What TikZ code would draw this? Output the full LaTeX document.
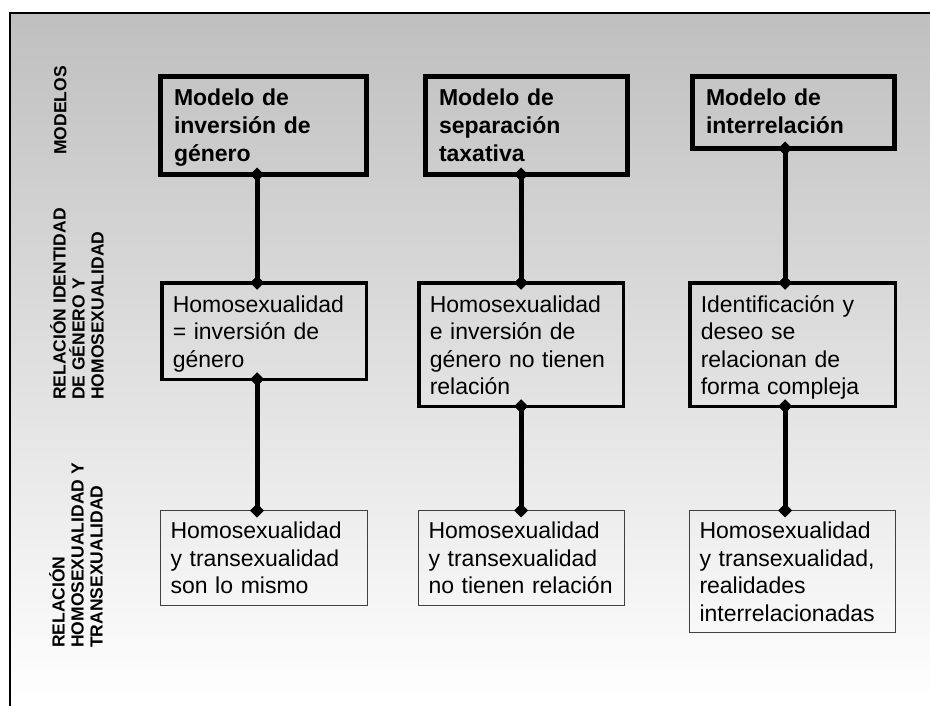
\documentclass[tikz,border=0pt]{standalone}
\usepackage{fontspec}
\setmainfont{Liberation Sans}
\usetikzlibrary{arrows.meta}
\tikzset{
  boxbase/.style={anchor=north west, outer sep=0pt, inner ysep=0pt, align=left},
  topbox/.style={boxbase, inner xsep=13.5pt, draw=black, line width=5pt, font=\bfseries\fontsize{23}{27.6}\selectfont, text height=29.5pt},
  midbox/.style={boxbase, inner xsep=11pt, draw=black, line width=3.5pt, font=\fontsize{23}{27.6}\selectfont, text height=29.3pt},
  botbox/.style={boxbase, inner xsep=10pt, draw=black!75, line width=1.2pt, font=\fontsize{23}{27.6}\selectfont, text height=28pt},
  conn/.style={line width=5pt, {Diamond[length=14pt,width=14pt]}-{Diamond[length=14pt,width=14pt]}, shorten <=-7pt, shorten >=-7pt},
  sidelbl/.style={rotate=90, anchor=north west, align=left, inner sep=0pt, font=\bfseries\fontsize{17.5}{19}\selectfont}
}
\begin{document}
\begin{tikzpicture}[x=1pt,y=-1pt]
\useasboundingbox (0,0) rectangle (930,706);
\shade[top color=black!25, bottom color=white] (10,13) rectangle (930,706);
\draw[line width=2pt] (10,706) -- (10,13) -- (930,13);

% side labels
\node[sidelbl] (l1) at (54,155) {MODELOS};
\node[sidelbl] (l2) at (50,400) {RELACIÓN IDENTIDAD\\DE GÉNERO Y\\HOMOSEXUALIDAD};
\node[sidelbl] (l3) at (49,648) {RELACIÓN\\HOMOSEXUALIDAD Y\\TRANSEXUALIDAD};

% top row
\node[topbox, text width=179pt, text depth=68.5pt] (t1) at (160.5,76.5) {Modelo de\\inversión de\\género};
\node[topbox, text width=175pt, text depth=68.5pt] (t2) at (425.5,76.5) {Modelo de\\separación\\taxativa};
\node[topbox, text width=175pt, text depth=42.5pt] (t3) at (692.5,76.5) {Modelo de\\interrelación};

% middle row
\node[midbox, text width=182.5pt, text depth=67.2pt] (m1) at (161.75,282.75) {Homosexualidad\\= inversión de\\género};
\node[midbox, text width=182.5pt, text depth=94.2pt] (m2) at (418.75,282.75) {Homosexualidad\\e inversión de\\género no tienen\\relación};
\node[midbox, text width=183.5pt, text depth=94.2pt] (m3) at (689.75,282.75) {Identificación y\\deseo se\\relacionan de\\forma compleja};

% bottom row
\node[botbox, text width=187pt, text depth=67pt] (b1) at (160.5,510.5) {Homosexualidad\\y transexualidad\\son lo mismo};
\node[botbox, text width=186pt, text depth=67pt] (b2) at (418.5,510.5) {Homosexualidad\\y transexualidad\\no tienen relación};
\node[botbox, text width=186pt, text depth=94pt] (b3) at (689.5,510.5) {Homosexualidad\\y transexualidad,\\realidades\\interrelacionadas};

% connector columns
\coordinate (c1) at (257,0);
\coordinate (c2) at (521,0);
\coordinate (c3) at (785,0);

\draw[conn] (t1.south -| c1) -- (m1.north -| c1);
\draw[conn] (m1.south -| c1) -- (b1.north -| c1);
\draw[conn] (t2.south -| c2) -- (m2.north -| c2);
\draw[conn] (m2.south -| c2) -- (b2.north -| c2);
\draw[conn] (t3.south -| c3) -- (m3.north -| c3);
\draw[conn] (m3.south -| c3) -- (b3.north -| c3);
\end{tikzpicture}
\end{document}
